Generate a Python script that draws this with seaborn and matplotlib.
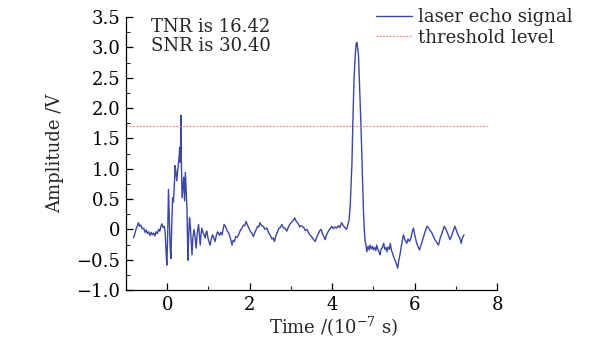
import matplotlib
matplotlib.use("Agg")
import matplotlib.pyplot as plt
import seaborn as sns
import numpy as np
from matplotlib.ticker import MultipleLocator, FuncFormatter

# ---- data ----
time = [
    -0.82,-0.79,-0.75,-0.72,-0.70,-0.67,-0.64,-0.61,-0.57,-0.54,
    -0.51,-0.48,-0.45,-0.42,-0.39,-0.36,-0.33,-0.30,-0.27,-0.24,
    -0.21,-0.18,-0.15,-0.13,-0.10,-0.07,-0.05,
    -0.03,-0.01,0.01,0.03,0.05,0.07,0.09,0.11,0.13,0.15,
    0.17,0.19,0.21,0.23,0.25,0.27,0.29,0.30,0.32,0.33,
    0.34,0.36,0.38,0.40,0.42,0.44,0.46,0.48,0.50,0.52,
    0.54,0.56,0.58,0.60,0.62,0.65,
    0.68,0.70,0.73,0.76,0.78,0.80,0.82,0.84,0.87,0.90,
    0.92,0.94,0.96,0.99,1.02,1.04,1.07,1.10,1.13,1.16,
    1.19,1.22,1.24,1.27,1.30,1.33,1.36,1.38,
    1.41,1.45,1.49,1.53,1.57,1.60,1.63,1.66,1.70,1.73,
    1.77,1.81,1.85,1.88,1.91,1.94,1.98,2.02,2.05,2.09,
    2.12,2.16,2.19,2.22,2.25,2.29,2.33,2.37,2.42,2.46,
    2.50,2.54,2.57,2.60,2.64,2.67,2.71,2.74,2.78,2.82,
    2.86,2.90,2.94,2.98,3.02,3.06,3.09,3.13,3.17,3.21,
    3.24,3.27,3.31,3.35,3.39,3.43,3.47,3.51,3.55,3.59,
    3.63,3.66,3.70,3.73,3.77,3.80,3.83,3.87,3.91,3.95,
    3.99,4.03,4.07,4.11,4.15,4.19,4.23,4.27,4.31,4.35,
    4.38,4.41,
    4.44,4.46,4.48,4.50,4.53,4.56,4.58,4.60,4.62,4.64,
    4.66,4.70,4.73,4.76,4.78,4.80,
    4.82,4.84,4.87,4.90,4.92,4.95,4.98,5.00,5.03,5.06,
    5.08,5.11,5.14,5.16,5.19,5.22,5.25,5.28,5.31,5.33,
    5.36,5.39,5.41,5.44,5.47,5.49,5.52,5.55,5.59,5.62,
    5.65,5.67,5.70,5.73,5.77,5.81,5.84,5.88,5.91,5.94,
    5.97,6.00,6.04,6.08,6.12,6.16,6.21,6.25,6.30,6.34,
    6.38,6.42,6.46,6.50,6.54,6.58,6.62,6.67,6.72,6.76,
    6.81,6.86,6.90,6.94,6.98,7.02,7.06,7.10,7.13,7.16,
    7.20,
]
amplitude = [
    -0.14,-0.08,0.02,0.06,0.11,0.05,0.07,0.01,0.02,-0.05,
    -0.01,-0.07,-0.04,-0.10,-0.05,-0.09,-0.06,-0.11,-0.04,-0.07,
    0.00,-0.03,0.06,0.09,0.03,0.05,-0.05,
    -0.35,-0.59,-0.10,0.66,0.20,-0.30,-0.48,0.10,0.52,0.45,
    0.70,1.05,0.95,0.80,0.95,1.08,1.20,1.35,1.10,1.88,
    1.20,0.52,0.70,0.86,0.47,0.94,0.60,0.30,-0.51,-0.10,
    0.19,0.05,-0.20,-0.42,-0.15,0.00,
    -0.15,-0.31,-0.05,0.08,-0.10,-0.26,-0.08,0.02,-0.06,-0.10,
    -0.14,-0.06,-0.03,-0.15,-0.22,-0.26,-0.15,-0.09,-0.14,-0.20,
    -0.10,-0.04,-0.06,-0.10,-0.05,-0.09,0.02,0.08,
    0.05,-0.02,-0.06,-0.14,-0.26,-0.18,-0.20,-0.12,-0.13,-0.09,
    -0.02,0.02,0.07,0.06,0.13,0.08,0.02,-0.04,-0.06,-0.12,
    -0.06,0.00,0.05,0.04,0.11,0.06,0.05,0.00,0.02,-0.06,
    -0.10,-0.16,-0.14,-0.20,-0.10,-0.05,0.02,0.03,0.08,0.02,
    0.02,-0.03,0.04,0.09,0.12,0.15,0.19,0.13,0.10,0.04,
    0.06,0.05,0.03,-0.02,0.00,-0.06,-0.10,-0.13,-0.17,-0.20,
    -0.12,-0.08,-0.02,0.00,-0.08,-0.12,-0.17,-0.08,-0.03,0.01,
    0.05,0.01,0.04,0.02,0.06,0.03,0.11,0.06,0.03,0.00,
    0.07,0.15,
    0.41,0.75,1.08,1.69,2.47,2.86,3.05,3.08,2.98,2.86,
    2.47,1.69,0.97,0.30,0.00,-0.20,
    -0.26,-0.37,-0.28,-0.34,-0.26,-0.32,-0.28,-0.34,-0.30,-0.35,
    -0.26,-0.33,-0.38,-0.42,-0.32,-0.30,-0.23,-0.33,-0.30,-0.37,
    -0.29,-0.33,-0.23,-0.35,-0.40,-0.45,-0.50,-0.55,-0.64,-0.50,
    -0.40,-0.31,-0.20,-0.09,-0.18,-0.23,-0.16,-0.20,-0.14,-0.05,
    0.02,-0.08,-0.20,-0.28,-0.34,-0.25,-0.14,-0.05,0.05,0.02,
    -0.02,-0.06,-0.12,-0.18,-0.22,-0.26,-0.15,-0.05,0.05,0.00,
    -0.08,-0.17,-0.10,-0.02,0.05,-0.03,-0.10,-0.15,-0.23,-0.14,
    -0.09,
]
threshold = 1.7
tnr = 16.42
snr = 30.40
x_ticks = [0, 2, 4, 6, 8]
y_ticks = [-1.0, -0.5, 0, 0.5, 1.0, 1.5, 2.0, 2.5, 3.0, 3.5]

# ---- style ----
sns.set_style("ticks")
plt.rcParams["font.family"] = ["DejaVu Serif"]
plt.rcParams["mathtext.fontset"] = "dejavuserif"
FS = 13

fig = plt.figure(figsize=(6.10, 3.38), dpi=100)
ax = fig.add_axes([0.2066, 0.142, 0.6082, 0.8077])

sig_color = "#3b46a6"
sns.lineplot(x=time, y=amplitude, ax=ax, color=sig_color, linewidth=1.0,
             sort=False, label="laser echo signal")
ax.axhline(threshold, xmin=0, xmax=0.973, color="#f07a5a", linewidth=0.8,
           linestyle=(0, (1.5, 1.5)), label="threshold level")

ax.set_xlim(-1, 8)
ax.set_ylim(-1.0, 3.5)
ax.set_xticks(x_ticks)
ax.set_yticks(y_ticks)
ax.xaxis.set_minor_locator(MultipleLocator(1))
ax.yaxis.set_minor_locator(MultipleLocator(0.25))

def yfmt(v, pos):
    if abs(v) < 1e-9:
        return "0"
    return f"{v:.1f}".replace("-", "\u2212")
ax.yaxis.set_major_formatter(FuncFormatter(yfmt))

ax.tick_params(which="major", direction="in", length=5, width=0.9,
               labelsize=FS, colors="black", pad=4)
ax.tick_params(which="minor", direction="in", length=3, width=0.8)
for s in ["top", "right"]:
    ax.spines[s].set_visible(False)
for s in ["left", "bottom"]:
    ax.spines[s].set_linewidth(0.9)
    ax.spines[s].set_color("black")

ax.set_xlabel("Time /(10$^{-7}$ s)", fontsize=FS)
ax.xaxis.set_label_coords(0.558, -0.09)
ax.set_ylabel("Amplitude /V", fontsize=FS, labelpad=9)

ax.text(0.068, 0.997, f"TNR is {tnr:.2f}\nSNR is {snr:.2f}",
        transform=ax.transAxes, ha="left", va="top", fontsize=FS,
        linespacing=1.1)

leg = ax.legend(loc="upper left", bbox_to_anchor=(376 / 610, 1 - 8 / 338),
                bbox_transform=fig.transFigure, frameon=False, fontsize=FS,
                handlelength=2.0, handletextpad=0.3, labelspacing=0.15,
                borderaxespad=0, borderpad=0)

fig.savefig("out.png", dpi=100, facecolor="white")
